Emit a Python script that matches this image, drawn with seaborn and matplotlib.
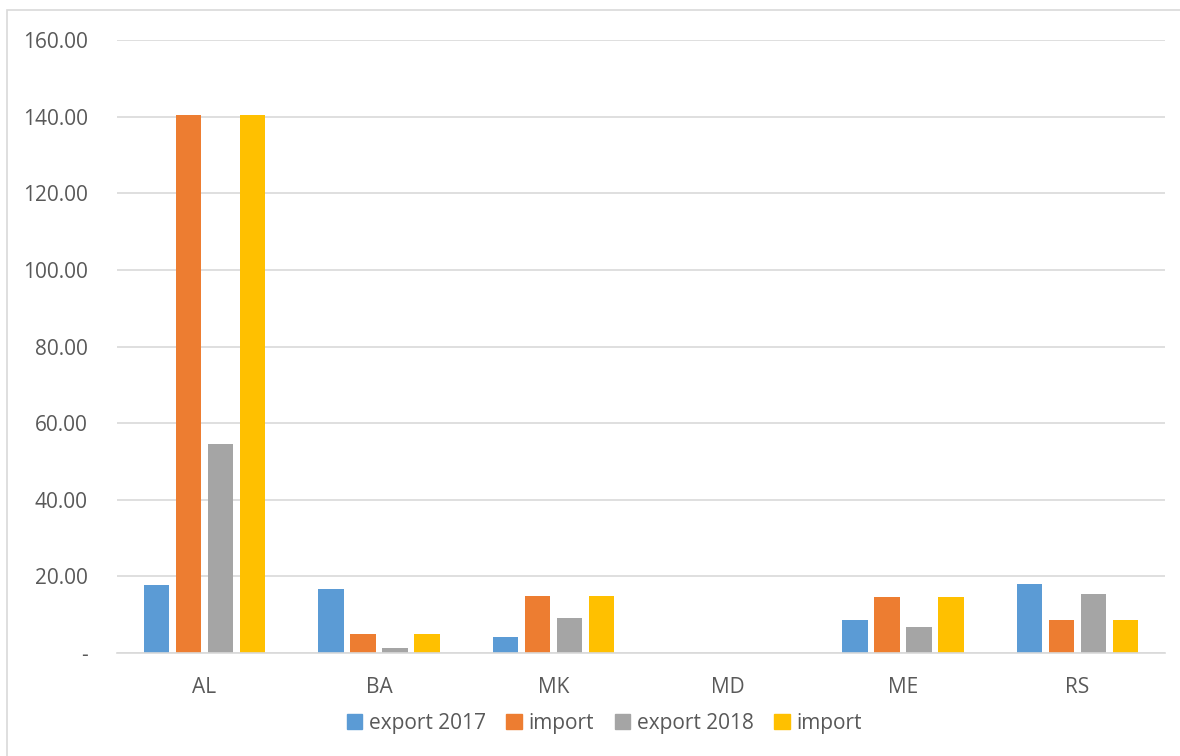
import pandas as pd
import matplotlib.pyplot as plt
import matplotlib.patches as mpatches
import seaborn as sns
from matplotlib.ticker import FuncFormatter

# values
countries = ["AL", "BA", "MK", "MD", "ME", "RS"]
export_2017 = [17.8, 16.6, 4.1, 0.0, 8.6, 18.1]
import_2017 = [140.4, 4.9, 14.8, 0.0, 14.6, 8.7]
export_2018 = [54.6, 1.3, 9.1, 0.0, 6.8, 15.3]
import_2018 = [140.4, 4.9, 14.8, 0.0, 14.6, 8.7]

series_keys = ["export 2017", "import 2017", "export 2018", "import 2018"]
series_labels = ["export 2017", "import", "export 2018", "import"]
colors = ["#5B9BD5", "#ED7D31", "#A5A5A5", "#FFC000"]

rows = []
for key, vals in zip(series_keys, [export_2017, import_2017, export_2018, import_2018]):
    for c, v in zip(countries, vals):
        rows.append({"country": c, "series": key, "value": v})
df = pd.DataFrame(rows)

sns.set_theme(style="white")
plt.rcParams["font.family"] = ["Open Sans", "DejaVu Sans"]
text_color = "#595959"

fig = plt.figure(figsize=(11.8, 7.56), dpi=100)
ax = fig.add_axes([0.0992, 0.1362, 0.888, 0.8108])

sns.barplot(data=df, x="country", y="value", hue="series", hue_order=series_keys,
            palette=colors, width=0.733, gap=0.2, saturation=1, ax=ax,
            edgecolor="none", legend=False)

ax.set_ylim(0, 160)
ax.set_yticks(range(0, 161, 20))
ax.yaxis.set_major_formatter(FuncFormatter(lambda v, p: "-" if v == 0 else f"{v:.2f}"))
ax.grid(axis="y", color="#D9D9D9", linewidth=1.2)
ax.set_axisbelow(True)
for side in ["top", "right", "left"]:
    ax.spines[side].set_visible(False)
ax.spines["bottom"].set_color("#D9D9D9")
ax.spines["bottom"].set_linewidth(1.2)
ax.set_xlabel("")
ax.set_ylabel("")
ax.tick_params(axis="both", length=0, labelsize=15, labelcolor=text_color)
ax.tick_params(axis="y", pad=21)
ax.tick_params(axis="x", pad=17)
ax.set_xlim(-0.5, len(countries) - 0.5)

handles = [mpatches.Patch(color=c, label=l) for c, l in zip(colors, series_labels)]
fig.legend(handles=handles, loc="center", bbox_to_anchor=(0.512, 0.043), ncol=4,
           frameon=False, fontsize=15, labelcolor=text_color, handlelength=0.75,
           handleheight=0.75, handletextpad=0.3, columnspacing=1.0)

# light frame around the chart area
fig.patches.append(mpatches.Rectangle((0.006, -0.01), 1.1, 0.997, transform=fig.transFigure,
                                      fill=False, edgecolor="#D9D9D9", linewidth=1.2))

fig.savefig("out.png", dpi=100)
